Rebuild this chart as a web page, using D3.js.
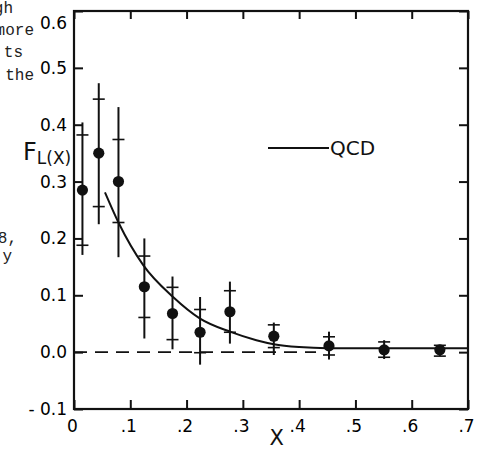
<!DOCTYPE html>
<html>
<head>
<meta charset="utf-8">
<script src="https://cdn.jsdelivr.net/npm/d3@7"></script>
<style>
  body { margin: 0; background: #fff; }
  svg { display: block; }
  .tick text { font-family: "DejaVu Sans", sans-serif; font-size: 17px; fill: #000; }
  .tick line { stroke: #111; stroke-width: 2; }
  .margin-text { font-family: "Liberation Mono", monospace; font-size: 16px; fill: #222; }
</style>
</head>
<body>
<svg id="chart" width="480" height="450"></svg>
<script>
/*
 * Longitudinal structure function F_L(x) with QCD expectation.
 */

// measured points: x, value, full error range, statistical error range
var xVals  = [0.015, 0.044, 0.079, 0.125, 0.175, 0.224, 0.277, 0.355, 0.453, 0.551, 0.650];
var flVals = [0.285, 0.350, 0.300, 0.115, 0.068, 0.035, 0.071, 0.028, 0.011, 0.004, 0.004];
var totLo  = [0.171, 0.225, 0.167, 0.024, 0.005, -0.022, 0.015, -0.005, -0.013, -0.012, -0.007];
var totHi  = [0.404, 0.473, 0.431, 0.200, 0.133, 0.097, 0.124, 0.052, 0.036, 0.021, 0.012];
var statLo = [0.188, 0.256, 0.228, 0.061, 0.022, -0.001, 0.035, 0.008, -0.005, -0.009, -0.007];
var statHi = [0.382, 0.445, 0.374, 0.169, 0.114, 0.075, 0.108, 0.048, 0.027, 0.018, 0.012];

// QCD curve
var qcdX = [0.055, 0.079, 0.123, 0.176, 0.224, 0.277, 0.324, 0.355, 0.40, 0.45, 0.70];
var qcdY = [0.281, 0.228, 0.153, 0.097, 0.059, 0.036, 0.021, 0.014, 0.009, 0.007, 0.007];

// zero reference, dashed
var zeroX = [0, 0.43];
var zeroY = [0, 0];

var xTicks = [0, 0.1, 0.2, 0.3, 0.4, 0.5, 0.6, 0.7];
var xTickLabels = ["0", ".1", ".2", ".3", ".4", ".5", ".6", ".7"];
var yTicks = [-0.1, 0, 0.1, 0.2, 0.3, 0.4, 0.5, 0.6];
var yTickLabels = ["- 0.1", "0.0", "0.1", "0.2", "0.3", "0.4", "0.5", "0.6"];

// bits of the neighbouring page text that show at the left edge
var sideText = ["gh", "more", "ts", "the", "8,", "y"];
var sideTextX = [13, 34, 23, 34, 17, 12];
var sideTextY = [13, 35, 57, 80, 243, 261];

function render() {
  var svg = d3.select('#chart'),
    margin = {top: 11, right: 12, bottom: 41, left: 74},
    width = svg.attr("width") - margin.left - margin.right,
    height = svg.attr("height") - margin.top - margin.bottom;

  var x = d3.scaleLinear().domain([0, 0.7]).range([0, width]);
  var y = d3.scaleLinear().domain([-0.1, 0.6]).range([height, 0]);

  svg.selectAll(".margin-text")
    .data(sideText)
    .enter()
    .append("text")
      .attr("class", "margin-text")
      .attr("x", function(d, i) { return sideTextX[i]; })
      .attr("y", function(d, i) { return sideTextY[i]; })
      .attr("text-anchor", "end")
      .text(function(d) { return d; });

  var g = svg.append("g")
    .attr("transform", "translate(" + margin.left + ", " + margin.top + ")");

  // Axes, ticks point inward
  g.append("g")
    .attr("transform", "translate(0, " + height + ")")
    .call(d3.axisBottom(x).tickValues(xTicks).tickSizeInner(-9).tickSizeOuter(0).tickPadding(11)
      .tickFormat(function(d, i) { return xTickLabels[i]; }))
    .call(function(a) { a.select(".domain").remove(); })
    .selectAll("text").attr("dx", "-2");

  g.append("g")
    .call(d3.axisTop(x).tickValues(xTicks).tickSizeInner(-8).tickSizeOuter(0).tickFormat(""))
    .call(function(a) { a.select(".domain").remove(); });

  g.append("g")
    .call(d3.axisLeft(y).tickValues(yTicks).tickSizeInner(-9).tickSizeOuter(0).tickPadding(7)
      .tickFormat(function(d, i) { return yTickLabels[i]; }))
    .call(function(a) { a.select(".domain").remove(); })
    .selectAll("text")
      .attr("dy", function(d) { return d === 0.6 ? "1.0em" : "0.32em"; });

  g.append("g")
    .attr("transform", "translate(" + width + ", 0)")
    .call(d3.axisRight(y).tickValues(yTicks).tickSizeInner(-9).tickSizeOuter(0).tickFormat(""))
    .call(function(a) { a.select(".domain").remove(); });

  // frame
  g.append("rect")
    .attr("x", 0)
    .attr("y", 0)
    .attr("width", width)
    .attr("height", height)
    .attr("fill", "none")
    .attr("stroke", "#111")
    .attr("stroke-width", 2.2);

  var line = d3.line()
    .x(function(d) { return x(d[0]); })
    .y(function(d) { return y(d[1]); });

  g.append("path")
    .datum(d3.zip(zeroX, zeroY))
    .attr("fill", "none")
    .attr("stroke", "#111")
    .attr("stroke-width", 1.6)
    .attr("stroke-dasharray", "13,8")
    .attr("d", line);

  g.append("path")
    .datum(d3.zip(qcdX, qcdY))
    .attr("fill", "none")
    .attr("stroke", "#111")
    .attr("stroke-width", 2)
    .attr("d", line.curve(d3.curveMonotoneX));

  var pts = xVals.map(function(v, i) {
    return {x: v, y: flVals[i], lo: totLo[i], hi: totHi[i], slo: statLo[i], shi: statHi[i]};
  });

  // full error bars
  g.selectAll(".errbar")
    .data(pts)
    .enter()
    .append("line")
      .attr("class", "errbar")
      .attr("x1", function(d) { return x(d.x); })
      .attr("x2", function(d) { return x(d.x); })
      .attr("y1", function(d) { return y(d.lo); })
      .attr("y2", function(d) { return y(d.hi); })
      .attr("stroke", "#111")
      .attr("stroke-width", 2);

  // statistical error marks, drawn as little cross bars
  ["slo", "shi"].forEach(function(key) {
    g.selectAll(".stat-" + key)
      .data(pts)
      .enter()
      .append("line")
        .attr("class", "stat-" + key)
        .attr("x1", function(d) { return x(d.x) - 6; })
        .attr("x2", function(d) { return x(d.x) + 6; })
        .attr("y1", function(d) { return y(d[key]); })
        .attr("y2", function(d) { return y(d[key]); })
        .attr("stroke", "#111")
        .attr("stroke-width", 1.6);
  });

  g.selectAll(".pt")
    .data(pts)
    .enter()
    .append("circle")
      .attr("class", "pt")
      .attr("cx", function(d) { return x(d.x); })
      .attr("cy", function(d) { return y(d.y); })
      .attr("r", 5.6)
      .attr("fill", "#111");

  // legend
  g.append("line")
    .attr("x1", 194)
    .attr("x2", 255)
    .attr("y1", 137)
    .attr("y2", 137)
    .attr("stroke", "#111")
    .attr("stroke-width", 2);

  g.append("text")
    .attr("x", 256)
    .attr("y", 144)
    .attr("font-family", "DejaVu Sans, sans-serif")
    .attr("font-size", "20")
    .attr("fill", "#111")
    .text("QCD");

  // axis titles
  var ylab = svg.append("text")
    .attr("x", 23)
    .attr("y", 160)
    .attr("font-family", "DejaVu Sans, sans-serif")
    .attr("fill", "#111");
  ylab.append("tspan")
    .attr("font-size", "24")
    .text("F");
  ylab.append("tspan")
    .attr("font-size", "17")
    .attr("dy", "4")
    .text("L(X)");

  svg.append("text")
    .attr("x", margin.left + x(0.36))
    .attr("y", 445)
    .attr("text-anchor", "middle")
    .attr("font-family", "DejaVu Sans, sans-serif")
    .attr("font-size", "21")
    .attr("fill", "#111")
    .text("X");
}

render();
</script>
</body>
</html>
